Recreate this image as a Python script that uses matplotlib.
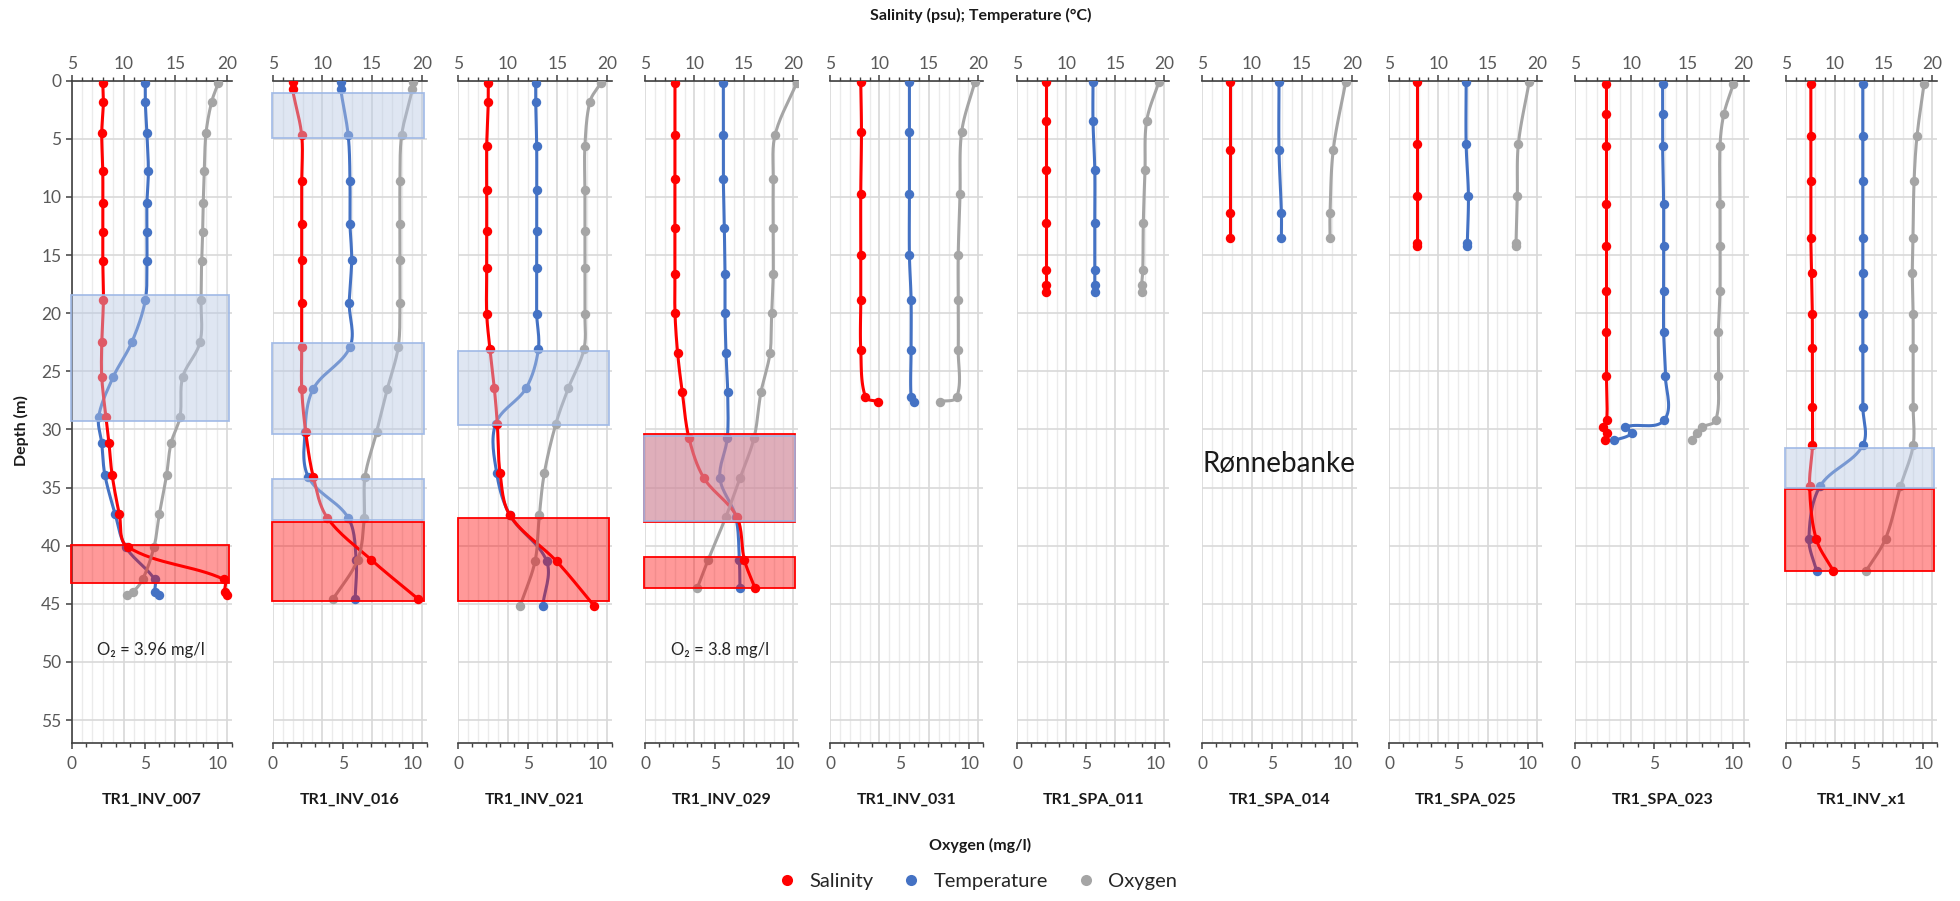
import numpy as np
import matplotlib
matplotlib.use("Agg")
import matplotlib.pyplot as plt
from matplotlib.ticker import MultipleLocator
from matplotlib.patches import Rectangle
from matplotlib.lines import Line2D
import matplotlib.transforms as mtransforms

plt.rcParams['font.family'] = ['Lato', 'DejaVu Sans']

# ---------------- data ----------------
station_names = ["TR1_INV_007", "TR1_INV_016", "TR1_INV_021", "TR1_INV_029", "TR1_INV_031",
                 "TR1_SPA_011", "TR1_SPA_014", "TR1_SPA_025", "TR1_SPA_023", "TR1_INV_x1"]

depth_007 = [0.2, 1.8, 4.5, 7.8, 10.5, 13.0, 15.5, 18.9, 22.5, 25.5, 28.9, 31.2, 33.9, 37.3, 40.1, 42.9, 44.0, 44.2]
sal_007 = [8.0, 8.06, 7.9, 8.0, 8.0, 8.0, 8.0, 8.06, 7.9, 7.9, 8.3, 8.6, 8.9, 9.6, 10.4, 19.7, 19.75, 19.95]
temp_007 = [12.1, 12.1, 12.26, 12.4, 12.26, 12.26, 12.26, 12.1, 10.8, 9.0, 7.6, 7.9, 8.2, 9.2, 10.2, 13.0, 13.05, 13.4]
oxy_007 = [10.04, 9.59, 9.2, 9.08, 9.01, 8.97, 8.9, 8.86, 8.79, 7.6, 7.42, 6.8, 6.5, 6.0, 5.64, 4.86, 4.18, 3.81]

depth_016 = [0.1, 0.75, 4.7, 8.6, 12.3, 15.4, 19.1, 22.9, 26.5, 30.2, 34.1, 37.6, 41.2, 44.6]
sal_016 = [7.0, 7.0, 7.92, 7.92, 7.92, 7.92, 7.92, 7.92, 7.92, 8.32, 9.09, 10.5, 14.9, 19.66]
temp_016 = [11.85, 11.85, 12.6, 12.78, 12.78, 12.95, 12.7, 12.78, 9.09, 8.25, 8.59, 12.6, 13.4, 13.3]
oxy_016 = [10.04, 9.97, 9.21, 9.09, 9.09, 9.09, 9.09, 8.97, 8.19, 7.43, 6.59, 6.54, 6.07, 4.3]

depth_021 = [0.2, 1.8, 5.6, 9.4, 12.9, 16.1, 20.06, 23.1, 26.45, 29.5, 33.75, 37.4, 41.36, 45.2]
sal_021 = [8.03, 8.03, 7.87, 7.87, 7.87, 7.87, 7.87, 8.2, 8.64, 8.94, 9.22, 10.23, 14.95, 18.75]
temp_021 = [12.82, 12.82, 12.92, 12.92, 12.92, 12.92, 12.92, 13.09, 11.85, 8.78, 8.88, 10.23, 13.94, 13.53]
oxy_021 = [10.21, 9.44, 9.08, 9.08, 9.08, 9.08, 9.08, 9.01, 7.89, 7.0, 6.17, 5.81, 5.5, 4.42]

depth_029 = [0.2, 4.67, 8.45, 12.64, 16.65, 19.95, 23.44, 26.8, 30.75, 34.2, 37.5, 41.2, 43.65]
sal_029 = [8.03, 8.03, 8.03, 8.03, 8.03, 8.03, 8.3, 8.77, 9.45, 10.97, 14.27, 15.04, 16.12]
temp_029 = [12.92, 12.92, 12.92, 13.02, 13.09, 13.09, 13.19, 13.36, 13.32, 12.58, 14.17, 14.54, 14.6]
oxy_029 = [10.88, 9.33, 9.2, 9.2, 9.2, 9.09, 8.97, 8.32, 7.82, 6.81, 5.81, 4.54, 3.75]

depth_031 = [0.08, 4.38, 9.74, 14.99, 18.86, 23.16, 27.2, 27.6]
sal_031 = [8.11, 8.18, 8.11, 8.11, 8.11, 8.11, 8.58, 9.85]
temp_031 = [13.03, 13.03, 13.03, 13.03, 13.2, 13.2, 13.2, 13.53]
oxy_031 = [10.4, 9.45, 9.33, 9.2, 9.2, 9.2, 9.1, 7.89]

depth_011 = [0.08, 3.47, 7.68, 12.2, 16.28, 17.57, 18.2]
sal_011 = [7.88, 7.88, 7.88, 7.88, 7.88, 7.88, 7.88]
temp_011 = [12.72, 12.72, 12.9, 12.9, 12.9, 12.9, 12.9]
oxy_011 = [10.25, 9.36, 9.24, 9.12, 9.08, 9.0, 9.0]

depth_014 = [0.14, 5.96, 11.4, 13.55]
sal_014 = [7.77, 7.77, 7.77, 7.77]
temp_014 = [12.7, 12.7, 12.94, 12.94]
oxy_014 = [10.21, 9.33, 9.1, 9.1]

depth_025 = [0.14, 5.44, 9.88, 13.98, 14.2]
sal_025 = [7.81, 7.81, 7.81, 7.81, 7.81]
temp_025 = [12.83, 12.83, 13.06, 12.95, 12.95]
oxy_025 = [10.09, 9.32, 9.24, 9.15, 9.15]

depth_023 = [0.26, 2.9, 5.63, 10.6, 14.25, 18.07, 21.6, 25.4, 29.2, 29.8, 30.3, 30.95]
sal_023 = [7.8, 7.8, 7.8, 7.8, 7.8, 7.8, 7.8, 7.8, 7.82, 7.47, 7.82, 7.67]
temp_023 = [12.79, 12.79, 12.79, 12.88, 12.88, 12.88, 12.88, 13.04, 12.93, 9.45, 10.05, 8.47]
oxy_023 = [10.0, 9.39, 9.15, 9.15, 9.15, 9.15, 9.05, 9.05, 8.88, 8.0, 7.68, 7.37]

depth_x1 = [0.26, 4.8, 8.65, 13.5, 16.5, 20.06, 22.96, 28.03, 31.38, 34.9, 39.4, 42.2]
sal_x1 = [7.55, 7.55, 7.55, 7.55, 7.62, 7.7, 7.7, 7.72, 7.72, 7.42, 8.09, 9.87]
temp_x1 = [12.88, 12.88, 12.88, 12.88, 12.88, 12.88, 12.88, 12.88, 12.88, 8.49, 7.35, 8.15]
oxy_x1 = [10.06, 9.54, 9.33, 9.25, 9.2, 9.26, 9.26, 9.26, 9.26, 8.34, 7.25, 5.82]

# stratification layers (depth ranges, m)
blue_layers = [[(18.43, 29.26)], [(1.08, 4.96), (22.58, 30.4), (34.25, 37.83)], [(23.24, 29.6)],
               [(30.6, 37.9)], [], [], [], [], [], [(31.6, 35.05)]]
red_layers = [[(39.98, 43.2)], [(38.0, 44.8)], [(37.6, 44.8)], [(30.4, 38.0), (41.0, 43.65)],
              [], [], [], [], [], [(35.13, 42.2)]]

o2_notes = {0: "O\u2082 = 3.96 mg/l", 3: "O\u2082 = 3.8 mg/l"}
o2_note_depth = 49

depths = [depth_007, depth_016, depth_021, depth_029, depth_031, depth_011, depth_014, depth_025, depth_023, depth_x1]
sals = [sal_007, sal_016, sal_021, sal_029, sal_031, sal_011, sal_014, sal_025, sal_023, sal_x1]
temps = [temp_007, temp_016, temp_021, temp_029, temp_031, temp_011, temp_014, temp_025, temp_023, temp_x1]
oxys = [oxy_007, oxy_016, oxy_021, oxy_029, oxy_031, oxy_011, oxy_014, oxy_025, oxy_023, oxy_x1]

# ---------------- layout ----------------
W, H = 1960, 901
lefts = [71.7, 272.7, 458.3, 645, 830, 1017.3, 1202.3, 1389, 1575, 1786]
rights = [232.3, 426.7, 611.7, 798.3, 983.3, 1169.3, 1356.7, 1541.7, 1749.3, 1937]
top_px, bot_px = 80.7, 743.3
TOP_LIM = (5, 20.5)
BOT_LIM = (0, 11)
DEPTH_LIM = (57, 0)

RED = '#FF0000'
BLUE = '#4472C4'
GREY = '#A5A5A5'
TXT = '#595959'
AXC = '#404040'
TICK_FS = 12.5


def smooth(xs, ys, sx, sy, n=16):
    P = np.column_stack([np.asarray(xs, float) * sx, np.asarray(ys, float) * sy])
    if len(P) < 3:
        return np.asarray(xs), np.asarray(ys)
    ext = np.vstack([2 * P[0] - P[1], P, 2 * P[-1] - P[-2]])

    def unit(v):
        nv = np.hypot(*v)
        return v / nv if nv > 0 else v * 0

    segs = []
    t = np.linspace(0, 1, n, endpoint=False)[:, None]
    for i in range(1, len(ext) - 2):
        p0, p1, p2, p3 = ext[i - 1], ext[i], ext[i + 1], ext[i + 2]
        L = np.hypot(*(p2 - p1))
        c1 = p1 + unit(p2 - p0) * L / 3
        c2 = p2 - unit(p3 - p1) * L / 3
        seg = (1 - t) ** 3 * p1 + 3 * (1 - t) ** 2 * t * c1 + 3 * (1 - t) * t ** 2 * c2 + t ** 3 * p2
        segs.append(seg)
    segs.append(P[-1:])
    out = np.vstack(segs)
    return out[:, 0] / sx, out[:, 1] / sy


fig = plt.figure(figsize=(W / 100, H / 100), dpi=100)
fig.patch.set_facecolor('white')

LW = 2.2
MS = 6.8
py_per_m = (bot_px - top_px) / (DEPTH_LIM[0] - DEPTH_LIM[1])

for i in range(10):
    l, r = lefts[i], rights[i]
    rect = [l / W, (H - bot_px) / H, (r - l) / W, (bot_px - top_px) / H]
    axT = fig.add_axes(rect)
    axO = axT.twiny()

    # ---- top axis: salinity / temperature ----
    axT.set_xlim(*TOP_LIM)
    axT.set_ylim(*DEPTH_LIM)
    axT.xaxis.set_ticks_position('top')
    axT.xaxis.set_label_position('top')
    axT.xaxis.set_major_locator(MultipleLocator(5))
    axT.xaxis.set_minor_locator(MultipleLocator(1))
    axT.yaxis.set_major_locator(MultipleLocator(5))
    axT.grid(which='major', axis='x', color='#d4d4d4', lw=1.1)
    axT.grid(which='minor', axis='x', color='#ebebeb', lw=1.0)
    axT.grid(which='major', axis='y', color='#d9d9d9', lw=1.2)
    axT.set_axisbelow(True)
    for s in ['bottom', 'right']:
        axT.spines[s].set_visible(False)
    axT.spines['top'].set_visible(True)
    axT.spines['top'].set_color(AXC)
    axT.spines['top'].set_linewidth(1.2)
    axT.tick_params(axis='x', which='major', direction='out', length=4.5, width=1.1, color=AXC,
                    labelsize=TICK_FS, labelcolor=TXT, pad=2, top=True, bottom=False,
                    labeltop=True, labelbottom=False)
    axT.tick_params(axis='x', which='minor', direction='out', length=3, width=1.0, color=AXC,
                    top=True, bottom=False)
    if i == 0:
        axT.spines['left'].set_color(AXC)
        axT.spines['left'].set_linewidth(1.2)
        axT.tick_params(axis='y', which='major', direction='out', length=4.5, width=1.1, color=AXC,
                        labelsize=TICK_FS, labelcolor=TXT, pad=3)
    else:
        axT.spines['left'].set_visible(False)
        axT.tick_params(axis='y', left=False, labelleft=False)

    sx_t = (r - l) / (TOP_LIM[1] - TOP_LIM[0])
    sx_b = (r - l) / (BOT_LIM[1] - BOT_LIM[0])

    for vals, col, z in [(temps[i], BLUE, 3), (sals[i], RED, 4)]:
        xs, ys = smooth(vals, depths[i], sx_t, py_per_m)
        axT.plot(xs, ys, color=col, lw=LW, zorder=z, solid_capstyle='round')
        axT.plot(vals, depths[i], 'o', color=col, ms=MS, zorder=z, mew=0)

    # ---- bottom axis: oxygen ----
    axO.set_xlim(*BOT_LIM)
    axO.set_ylim(*DEPTH_LIM)
    axO.xaxis.set_ticks_position('bottom')
    axO.xaxis.set_label_position('bottom')
    axO.xaxis.set_major_locator(MultipleLocator(5))
    axO.xaxis.set_minor_locator(MultipleLocator(1))
    for s in ['top', 'right', 'left']:
        axO.spines[s].set_visible(False)
    axO.spines['bottom'].set_visible(True)
    axO.spines['bottom'].set_color(AXC)
    axO.spines['bottom'].set_linewidth(1.2)
    axO.tick_params(axis='x', which='major', direction='out', length=4.5, width=1.1, color=AXC,
                    labelsize=TICK_FS, labelcolor=TXT, pad=5, top=False, bottom=True,
                    labeltop=False, labelbottom=True)
    axO.tick_params(axis='x', which='minor', direction='out', length=3, width=1.0, color=AXC,
                    top=False, bottom=True)

    xs, ys = smooth(oxys[i], depths[i], sx_b, py_per_m)
    axO.plot(xs, ys, color=GREY, lw=LW, zorder=2, solid_capstyle='round')
    axO.plot(oxys[i], depths[i], 'o', color=GREY, ms=MS, zorder=2, mew=0)

    trans = mtransforms.blended_transform_factory(axO.transAxes, axO.transData)
    for (d0, d1) in red_layers[i]:
        axO.add_patch(Rectangle((-0.005, d0), 0.985, d1 - d0, transform=trans,
                                facecolor=(1.0, 0.0, 0.0, 0.40), edgecolor=RED, lw=1.3,
                                zorder=10, clip_on=False))
    for (d0, d1) in blue_layers[i]:
        axO.add_patch(Rectangle((-0.005, d0), 0.985, d1 - d0, transform=trans,
                                facecolor=(184 / 255, 200 / 255, 228 / 255, 0.45),
                                edgecolor=(0.62, 0.72, 0.90, 0.9), lw=1.3,
                                zorder=11, clip_on=False))

    if i in o2_notes:
        axO.text(0.49, o2_note_depth, o2_notes[i], transform=trans, ha='center', va='center',
                 fontsize=12, color='#262626', zorder=12)

    fig.text((l + r) / 2 / W, 1 - 800 / H, station_names[i], ha='center', va='center',
             fontsize=11.5, fontweight='bold', color='#1a1a1a')

fig.text(1202 / W, 1 - 464 / H, "R\u00f8nnebanke", ha='left', va='center', fontsize=20, color='#1a1a1a')
fig.text(981 / W, 1 - 15 / H, "Salinity (psu); Temperature (\u00b0C)", ha='center', va='center',
         fontsize=11.5, fontweight='bold', color='#1a1a1a')
fig.text(980 / W, 1 - 845 / H, "Oxygen (mg/l)", ha='center', va='center',
         fontsize=11.5, fontweight='bold', color='#1a1a1a')
fig.text(21 / W, 1 - 431 / H, "Depth (m)", ha='center', va='center', rotation=90,
         fontsize=11.5, fontweight='bold', color='#1a1a1a')

handles = [Line2D([], [], marker='o', ls='none', color=c, ms=8, mew=0) for c in (RED, BLUE, GREY)]
fig.legend(handles, ["Salinity", "Temperature", "Oxygen"], loc='center',
           bbox_to_anchor=(972 / W, 1 - 881 / H), ncol=3, frameon=False, fontsize=14.5,
           handletextpad=0.1, columnspacing=0.9, labelcolor='#262626')

fig.savefig("out.png", dpi=100, facecolor='white')
